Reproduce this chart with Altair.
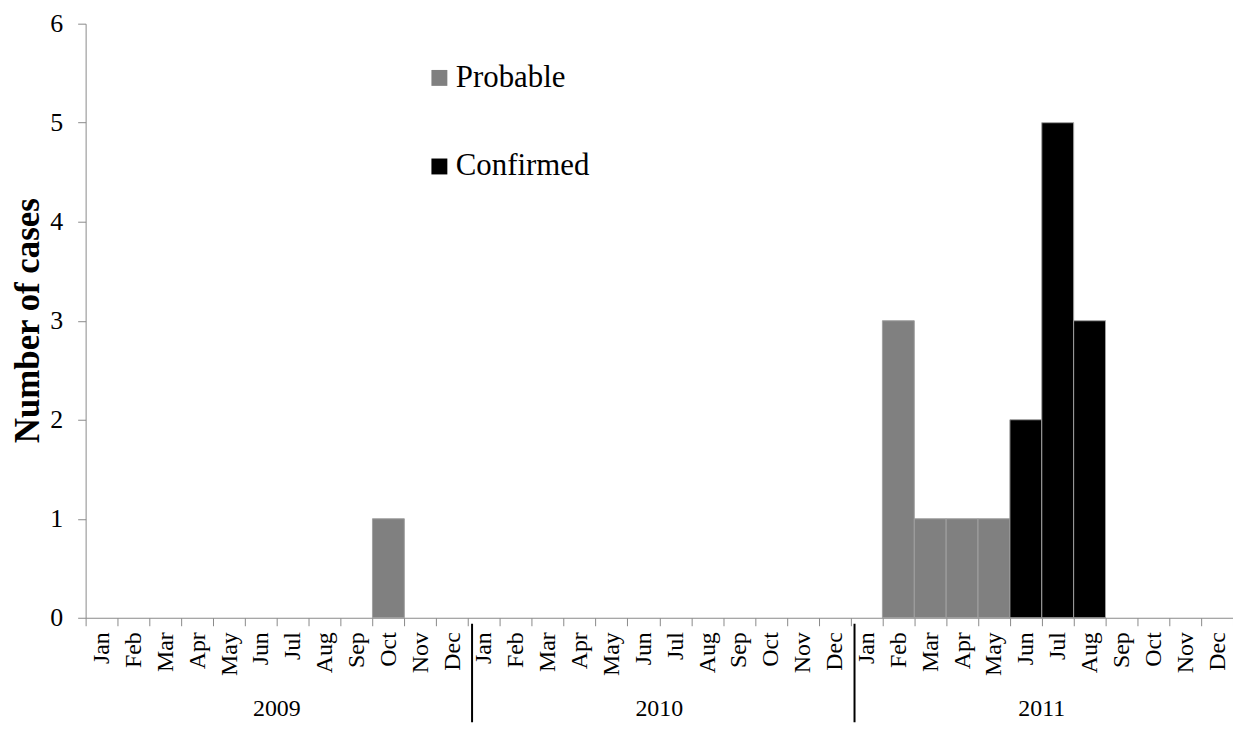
import altair as alt
import pandas as pd

months = ["Jan", "Feb", "Mar", "Apr", "May", "Jun",
          "Jul", "Aug", "Sep", "Oct", "Nov", "Dec"]
years = ["2009", "2010", "2011"]

probable_2009 = [0, 0, 0, 0, 0, 0, 0, 0, 0, 1, 0, 0]
probable_2010 = [0, 0, 0, 0, 0, 0, 0, 0, 0, 0, 0, 0]
probable_2011 = [0, 3, 1, 1, 1, 0, 0, 0, 0, 0, 0, 0]
confirmed_2009 = [0, 0, 0, 0, 0, 0, 0, 0, 0, 0, 0, 0]
confirmed_2010 = [0, 0, 0, 0, 0, 0, 0, 0, 0, 0, 0, 0]
confirmed_2011 = [0, 0, 0, 0, 0, 2, 5, 3, 0, 0, 0, 0]

status_names = ["Probable", "Confirmed"]
status_colors = ["#808080", "#000000"]
y_ticks = [0, 1, 2, 3, 4, 5, 6]

series = {
    "Probable": {"2009": probable_2009, "2010": probable_2010, "2011": probable_2011},
    "Confirmed": {"2009": confirmed_2009, "2010": confirmed_2010, "2011": confirmed_2011},
}

keys = [f"{y}-{m}" for y in years for m in months]

rows = []
for status, by_year in series.items():
    for y in years:
        for m, v in zip(months, by_year[y]):
            if v > 0:
                rows.append({"key": f"{y}-{m}", "status": status, "count": v})
bars_df = pd.DataFrame(rows)

years_df = pd.DataFrame({"key": [f"{y}-Jul" for y in years], "label": years})
sep_df = pd.DataFrame({"key": [f"{y}-Jan" for y in years[1:]]})

FONT = "Liberation Serif"
AXIS_GRAY = "#898989"

x_enc = alt.X(
    "key:N",
    scale=alt.Scale(domain=keys, paddingInner=0, paddingOuter=0),
    axis=alt.Axis(
        title=None,
        labelExpr="split(datum.value, '-')[1]",
        labelAngle=-90,
        labelFont=FONT,
        labelFontSize=24,
        labelColor="black",
        labelPadding=6,
        labelOverlap=False,
        tickBand="extent",
        tickSize=8,
        tickColor=AXIS_GRAY,
        domainColor=AXIS_GRAY,
    ),
)

bars = alt.Chart(bars_df).mark_bar(stroke="#a0a0a0", strokeWidth=1).encode(
    x=x_enc,
    y=alt.Y(
        "count:Q",
        stack=None,
        scale=alt.Scale(domain=[0, 6]),
        axis=alt.Axis(
            values=y_ticks,
            grid=False,
            title="Number of cases",
            titleFont=FONT,
            titleFontSize=35,
            titleFontWeight="bold",
            titleColor="black",
            titleX=-58,
            titleY=298,
            titleAngle=-90,
            titleAlign="center",
            titleBaseline="middle",
            labelFont=FONT,
            labelFontSize=26,
            labelColor="black",
            labelPadding=15,
            tickSize=8,
            tickColor=AXIS_GRAY,
            domainColor=AXIS_GRAY,
        ),
    ),
    color=alt.Color(
        "status:N",
        scale=alt.Scale(domain=status_names, range=status_colors),
        legend=alt.Legend(
            title=None,
            orient="none",
            legendX=340,
            legendY=39,
            padding=0,
            symbolType="square",
            symbolSize=256,
            symbolStrokeWidth=0,
            labelFont=FONT,
            labelFontSize=31,
            labelColor="black",
            labelOffset=1,
            rowPadding=57,
        ),
    ),
)

year_text = alt.Chart(years_df).mark_text(
    font=FONT, fontSize=24, color="black", align="center", baseline="alphabetic"
).encode(
    x=alt.X("key:N", bandPosition=0),
    y=alt.value(696),
    text="label:N",
)

seps = alt.Chart(sep_df).mark_rule(color="black", strokeWidth=2, xOffset=4).encode(
    x=alt.X("key:N", bandPosition=0),
    y=alt.value(603),
    y2=alt.value(702),
)

chart = alt.layer(bars, year_text, seps).properties(
    width=1153,
    height=597,
    autosize=alt.AutoSizeParams(type="none"),
    padding={"left": 78, "top": 14, "right": 0, "bottom": 105},
).configure(font=FONT).configure_view(stroke=None)

chart.save("out.html", embed_options={"renderer": "svg", "actions": False})
